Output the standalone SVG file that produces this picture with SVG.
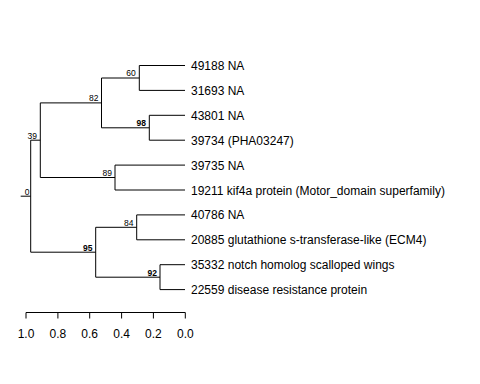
<svg xmlns="http://www.w3.org/2000/svg" width="480" height="384" viewBox="0 0 480 384">
<style>
.e{stroke:#000;stroke-width:1;fill:none}
.leaf{font-family:"Liberation Sans",Arial,sans-serif;font-size:12px;fill:#000}
.bs{font-family:"Liberation Sans",Arial,sans-serif;font-size:8.5px;fill:#000;text-anchor:end}
.b{font-weight:bold}
.ax{font-family:"Liberation Sans",Arial,sans-serif;font-size:12px;fill:#000;text-anchor:middle}
</style>
<rect width="480" height="384" fill="#fff"/>
<g id="connectors" class="e">
<path d="M20.7 196.2H30.7"/>
<path d="M30.7 140.2V252.2"/>
<path d="M30.7 140.2H40.3"/>
<path d="M30.7 252.2H95.7"/>
<path d="M40.3 102.9V177.5"/>
<path d="M40.3 102.9H101.5"/>
<path d="M40.3 177.5H115"/>
<path d="M101.5 78V127.8"/>
<path d="M101.5 78H139.3"/>
<path d="M101.5 127.8H149.3"/>
<path d="M139.3 65.5V90.4"/>
<path d="M139.3 65.5H185"/>
<path d="M139.3 90.4H185"/>
<path d="M149.3 115.3V140.2"/>
<path d="M149.3 115.3H185"/>
<path d="M149.3 140.2H185"/>
<path d="M115 165.1V190"/>
<path d="M115 165.1H185"/>
<path d="M115 190H185"/>
<path d="M95.7 227.3V277.2"/>
<path d="M95.7 227.3H136.7"/>
<path d="M95.7 277.2H160"/>
<path d="M136.7 214.9V239.8"/>
<path d="M136.7 214.9H185"/>
<path d="M136.7 239.8H185"/>
<path d="M160 264.7V289.6"/>
<path d="M160 264.7H185"/>
<path d="M160 289.6H185"/>
</g>
<g id="bootstrap">
<text class="bs" x="29.5" y="194.5">0</text>
<text class="bs" x="37" y="138.5">39</text>
<text class="bs" x="98.5" y="101.3">82</text>
<text class="bs" x="135.8" y="76.4">60</text>
<text class="bs b" x="146" y="126.2">98</text>
<text class="bs" x="112" y="176">89</text>
<text class="bs b" x="92.5" y="250.6">95</text>
<text class="bs" x="133.5" y="225.7">84</text>
<text class="bs b" x="157" y="275.6">92</text>
</g>
<g id="leaf1"><text class="leaf" x="191" y="70">49188 NA</text></g>
<g id="leaf2"><text class="leaf" x="191" y="94.9">31693 NA</text></g>
<g id="leaf3"><text class="leaf" x="191" y="119.8">43801 NA</text></g>
<g id="leaf4"><text class="leaf" x="191" y="144.7">39734 (PHA03247)</text></g>
<g id="leaf5"><text class="leaf" x="191" y="169.6">39735 NA</text></g>
<g id="leaf6"><text class="leaf" x="191" y="194.5">19211 kif4a protein (Motor_domain superfamily)</text></g>
<g id="leaf7"><text class="leaf" x="191" y="219.4">40786 NA</text></g>
<g id="leaf8"><text class="leaf" x="191" y="244.3">20885 glutathione s-transferase-like (ECM4)</text></g>
<g id="leaf9"><text class="leaf" x="191" y="269.2">35332 notch homolog scalloped wings</text></g>
<g id="leaf10"><text class="leaf" x="191" y="294.1">22559 disease resistance protein</text></g>
<g id="axis">
<path class="e" d="M26 312.5H185.3M26 312.5V318.5M57.9 312.5V318.5M89.7 312.5V318.5M121.6 312.5V318.5M153.4 312.5V318.5M185.3 312.5V318.5"/>
<text class="ax" x="26" y="337.5">1.0</text>
<text class="ax" x="57.9" y="337.5">0.8</text>
<text class="ax" x="89.7" y="337.5">0.6</text>
<text class="ax" x="121.6" y="337.5">0.4</text>
<text class="ax" x="153.4" y="337.5">0.2</text>
<text class="ax" x="185.3" y="337.5">0.0</text>
</g>
</svg>
